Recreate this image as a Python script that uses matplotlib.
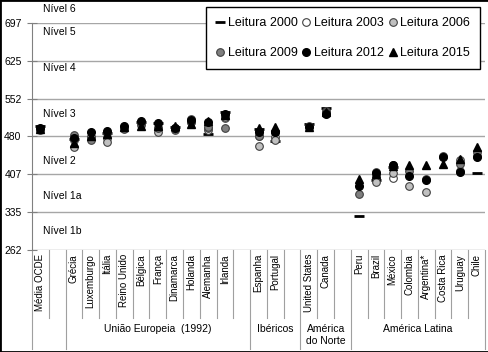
import numpy as np
import matplotlib.pyplot as plt
from matplotlib.patches import Rectangle
from matplotlib.lines import Line2D

plt.rcParams['font.family'] = ['Liberation Sans', 'DejaVu Sans']

W, H = 489, 352

categories = ['Média OCDE', '', 'Grécia', 'Luxemburgo', 'Itália', 'Reino Unido', 'Bélgica',
              'França', 'Dinamarca', 'Holanda', 'Alemanha', 'Irlanda', '', 'Espanha', 'Portugal', '',
              'United States', 'Canada', '', 'Peru', 'Brazil', 'México', 'Colombia', 'Argentina*',
              'Costa Rica', 'Uruguay', 'Chile']

# (label, first index, end index)
groups = [('', 0, 2), ('União Europeia  (1992)', 2, 13), ('Ibéricos', 13, 16),
          ('América\ndo Norte', 16, 19), ('América Latina', 19, 27)]

N = np.nan
leitura_2000 = [500, N, 474, N, 487, N, 507, 505, 497, N, 484, 527, N, 493, 470, N, 504, 534, N,
                327, 396, 422, N, N, N, N, 410]
leitura_2003 = [494, N, 472, 479, 476, N, 507, 496, 492, 513, 491, 515, N, 481, 478, N, N, 528, N,
                N, 403, 400, N, N, N, 434, N]
leitura_2006 = [492, N, 460, 479, 469, 495, 501, 488, 494, 507, 495, 517, N, 461, 472, N, N, 527, N,
                N, 393, 410, 385, 374, N, 413, 442]
leitura_2009 = [493, N, 483, 472, 486, 494, 506, 496, 495, 508, 497, 496, N, 481, 489, N, 500, 524, N,
                370, 412, 425, 413, 398, 443, 426, 449]
leitura_2012 = [496, N, 477, 488, 490, 499, 509, 505, 496, 511, 508, 523, N, 488, 488, N, 498, 523, N,
                384, 410, 424, 403, 396, 441, 411, 441]
leitura_2015 = [493, N, 467, 481, 485, 498, 499, 499, 500, 503, 509, 521, N, 496, 498, N, 497, 527, N,
                398, 407, 423, 425, 425, 427, 437, 459]

yticks = [262, 335, 407, 480, 552, 625, 697]
niveis = [('Nível 6', 723), ('Nível 5', 679), ('Nível 4', 610), ('Nível 3', 522),
          ('Nível 2', 433), ('Nível 1a', 366), ('Nível 1b', 299)]

fig = plt.figure(figsize=(W / 100, H / 100), dpi=100)
ax_l, ax_r, ax_t, ax_b = 32, 485, 23, 250
ax = fig.add_axes([ax_l / W, 1 - ax_b / H, (ax_r - ax_l) / W, (ax_b - ax_t) / H])
axh = ax_b - ax_t

x = np.arange(len(categories))
series = [
    ('Leitura 2000', leitura_2000, dict(marker='_', color='black', markersize=7, markeredgewidth=2)),
    ('Leitura 2003', leitura_2003, dict(marker='o', markerfacecolor='white', markeredgecolor='#404040', markersize=5.5, markeredgewidth=0.8)),
    ('Leitura 2006', leitura_2006, dict(marker='o', markerfacecolor='#c0c0c0', markeredgecolor='#404040', markersize=5.5, markeredgewidth=0.8)),
    ('Leitura 2009', leitura_2009, dict(marker='o', markerfacecolor='#7f7f7f', markeredgecolor='#404040', markersize=5.5, markeredgewidth=0.8)),
    ('Leitura 2012', leitura_2012, dict(marker='o', markerfacecolor='black', markeredgecolor='black', markersize=5.5)),
    ('Leitura 2015', leitura_2015, dict(marker='^', markerfacecolor='black', markeredgecolor='black', markersize=6)),
]
handles = []
for label, vals, st in series:
    h, = ax.plot(x, vals, linestyle='none', label=label, zorder=3, **st)
    handles.append(h)

ax.set_xlim(-0.5, len(categories) - 0.5)
ax.set_ylim(262, 697)
ax.set_yticks(yticks)
ax.set_yticklabels([str(v) for v in yticks], fontsize=7.5)
ax.tick_params(axis='y', direction='inout', length=7, width=0.8, color='#808080', pad=4)
ax.set_xticks([])
ax.grid(axis='y', color='#a6a6a6', linewidth=1)
ax.set_axisbelow(True)
for s in ['top', 'right', 'bottom']:
    ax.spines[s].set_visible(False)
ax.spines['left'].set_color('#808080')

for txt, yv in niveis:
    ax.text((43 - ax_l) / (ax_r - ax_l), yv, txt, transform=ax.get_yaxis_transform(),
            fontsize=7.5, va='center', ha='left', clip_on=False)

# category axis (two levels)
tr = ax.get_xaxis_transform()
short = -(318 - ax_b) / axh
full = -(349 - ax_b) / axh
for i, c in enumerate(categories):
    ax.text(i, -4 / axh, c, transform=tr, rotation=90, fontsize=7, ha='center', va='top')
sep_col = '#a0a0a0'
starts = {g[1] for g in groups} | {g[2] for g in groups}
for b in range(len(categories) + 1):
    y1 = full if b in starts else short
    ax.add_line(Line2D([b - 0.5, b - 0.5], [0, y1], transform=tr, color=sep_col, lw=0.8, clip_on=False))
for name, s0, s1 in groups:
    ax.text((s0 + s1 - 1) / 2, -(324 - ax_b) / axh, name, transform=tr, fontsize=7.5,
            ha='center', va='top', linespacing=1.2)

# row-major order in a 2x3 legend
order = [0, 3, 1, 4, 2, 5]
ax.legend([handles[i] for i in order], [series[i][0] for i in order],
          ncol=3, loc='upper right', bbox_to_anchor=(480 / W, 1 - 7 / H),
          bbox_transform=fig.transFigure, fontsize=9, frameon=True, fancybox=False,
          edgecolor='black', framealpha=1, handlelength=0.7, handletextpad=0.25,
          columnspacing=0.35, labelspacing=1.45, borderpad=0.8, borderaxespad=0)

fig.patches.append(Rectangle((0, 0), 1, 1, transform=fig.transFigure, fill=False,
                             edgecolor='black', linewidth=2))

fig.savefig('out.png', dpi=100)
